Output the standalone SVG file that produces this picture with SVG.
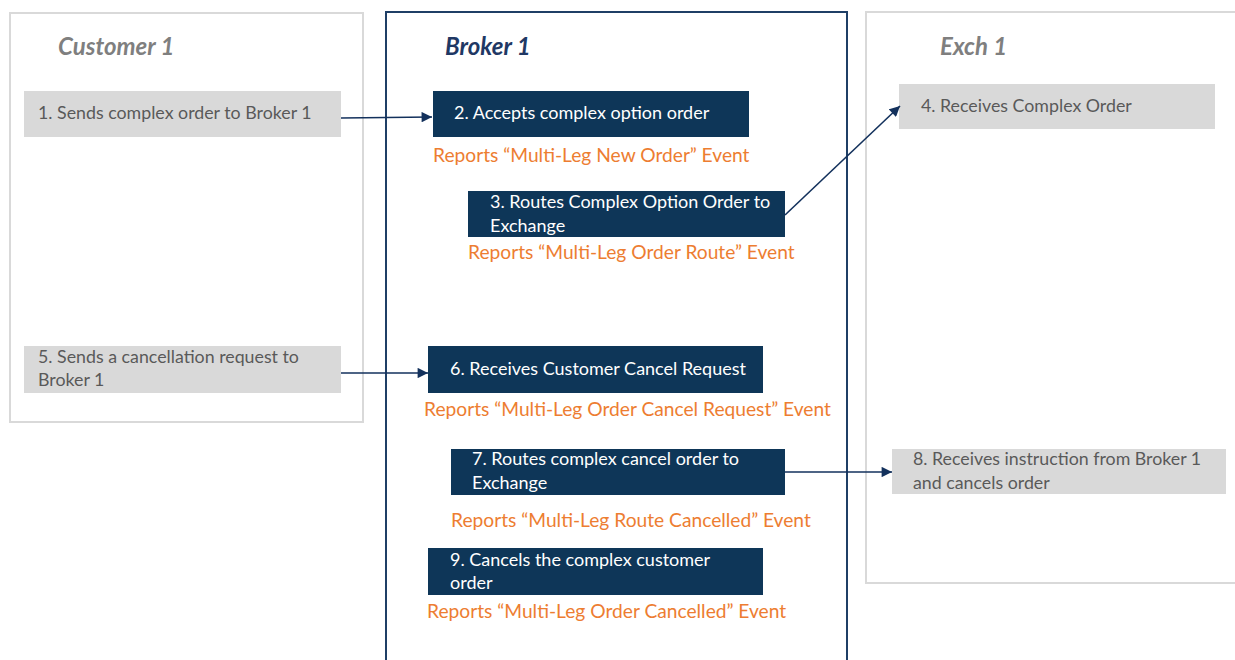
<svg xmlns="http://www.w3.org/2000/svg" width="1235" height="660" viewBox="0 0 1235 660">
<style>
.panel{fill:#ffffff;stroke:#d9d9d9;stroke-width:2}
.bpanel{fill:#ffffff;stroke:#1f3f66;stroke-width:2}
.title{font-family:Lato,"Liberation Sans",sans-serif;font-size:24px;font-weight:bold;font-style:italic}
.gbox{fill:#d9d9d9}
.nbox{fill:#0e3658}
.gt{font-family:Lato,"Liberation Sans",sans-serif;font-size:17.8px;fill:#595959}
.wt{font-family:Lato,"Liberation Sans",sans-serif;font-size:18px;fill:#ffffff}
.ot{font-family:Lato,"Liberation Sans",sans-serif;font-size:19.2px;fill:#ed7d31}
.conn{stroke:#13315c;stroke-width:1.6;fill:none;marker-end:url(#arr)}
</style>
<defs>
<marker id="arr" viewBox="0 0 10 10" refX="10" refY="5" markerWidth="7.5" markerHeight="6.5" orient="auto" markerUnits="strokeWidth">
<path d="M0,0 L10,5 L0,10 z" fill="#13315c"/>
</marker>
</defs>
<rect width="1235" height="660" fill="#ffffff"/>
<g id="customer1">
<rect class="panel" x="10" y="13" width="353" height="409"/>
<text class="title" x="58" y="55" fill="#7f7f7f">Customer 1</text>
</g>
<g id="broker1">
<rect class="bpanel" x="386" y="12" width="461" height="660"/>
<text class="title" x="445" y="55" fill="#1f3864">Broker 1</text>
</g>
<g id="exch1">
<rect class="panel" x="866" y="12" width="380" height="571"/>
<text class="title" x="940" y="55" fill="#7f7f7f">Exch 1</text>
</g>
<g id="n1">
<rect class="gbox" x="24" y="91" width="317" height="46"/>
<text class="gt" x="38" y="119">1. Sends complex order to Broker 1</text>
</g>
<g id="n2">
<rect class="nbox" x="433" y="91" width="316" height="46"/>
<text class="wt" x="454" y="119">2. Accepts complex option order</text>
<text class="ot" x="433" y="162">Reports “Multi-Leg New Order” Event</text>
</g>
<g id="n3">
<rect class="nbox" x="468" y="191" width="317" height="46"/>
<text class="wt" x="490" y="208">3. Routes Complex Option Order to</text>
<text class="wt" x="490" y="232">Exchange</text>
<text class="ot" x="468" y="259">Reports “Multi-Leg Order Route” Event</text>
</g>
<g id="n4">
<rect class="gbox" x="899" y="84" width="316" height="45"/>
<text class="gt" x="921" y="112">4. Receives Complex Order</text>
</g>
<g id="n5">
<rect class="gbox" x="24" y="346" width="317" height="47"/>
<text class="gt" x="38" y="363">5. Sends a cancellation request to</text>
<text class="gt" x="38" y="386">Broker 1</text>
</g>
<g id="n6">
<rect class="nbox" x="428" y="346" width="335" height="47"/>
<text class="wt" x="450" y="375">6. Receives Customer Cancel Request</text>
<text class="ot" x="424" y="416">Reports “Multi-Leg Order Cancel Request” Event</text>
</g>
<g id="n7">
<rect class="nbox" x="451" y="449" width="334" height="46"/>
<text class="wt" x="472" y="465">7. Routes complex cancel order to</text>
<text class="wt" x="472" y="489">Exchange</text>
<text class="ot" x="451" y="527">Reports “Multi-Leg Route Cancelled” Event</text>
</g>
<g id="n8">
<rect class="gbox" x="892" y="449" width="334" height="45"/>
<text class="gt" x="913" y="465">8. Receives instruction from Broker 1</text>
<text class="gt" x="913" y="489">and cancels order</text>
</g>
<g id="n9">
<rect class="nbox" x="428" y="548" width="335" height="47"/>
<text class="wt" x="450" y="566">9. Cancels the complex customer</text>
<text class="wt" x="450" y="589">order</text>
<text class="ot" x="427" y="618">Reports “Multi-Leg Order Cancelled” Event</text>
</g>
<g id="connectors">
<line class="conn" x1="341" y1="118" x2="432" y2="117"/>
<line class="conn" x1="785" y1="215" x2="900" y2="106"/>
<line class="conn" x1="341" y1="373" x2="428" y2="373"/>
<line class="conn" x1="785" y1="472" x2="892" y2="472"/>
</g>
</svg>
